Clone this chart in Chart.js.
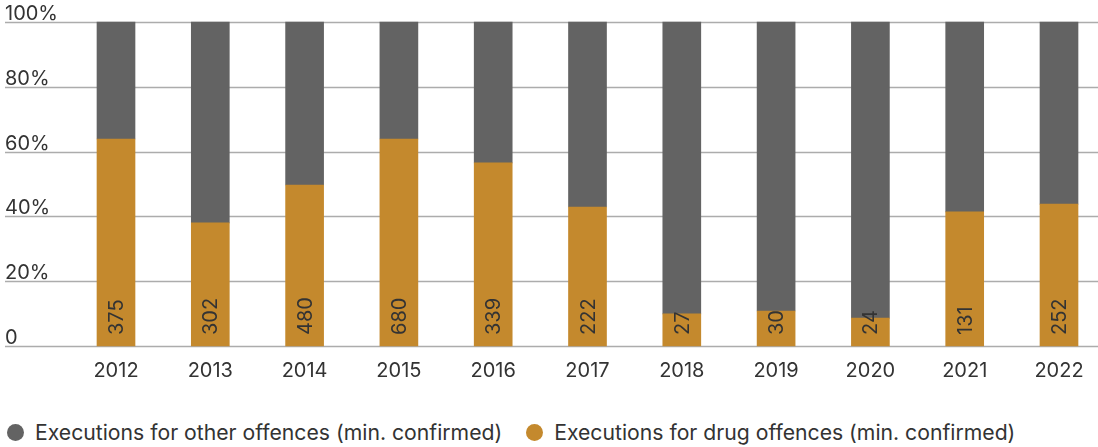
<!DOCTYPE html>
<html>
<head>
<meta charset="utf-8">
<script src="https://cdn.jsdelivr.net/npm/chart.js@4"></script>
<style>
  body { margin: 0; background: #fff; font-family: Inter, sans-serif; }
  #wrap { position: absolute; left: 0; top: 0; width: 1098px; height: 396px; }
  #legend { position: absolute; left: 7px; top: 420px; height: 25px; line-height: 25px; display: flex; align-items: center; font-size: 21.2px; color: #333; white-space: nowrap; }
  .item { display: flex; align-items: center; margin-right: 24px; }
  .dot { width: 17px; height: 17px; border-radius: 50%; margin-right: 11px; }
</style>
</head>
<body>
<div id="wrap"><canvas id="chart"></canvas></div>
<div id="legend"></div>
<script>
const years = ["2012", "2013", "2014", "2015", "2016", "2017", "2018", "2019", "2020", "2021", "2022"];
// share of executions (%)
const drugShare  = [63.9, 38.0, 49.7, 63.9, 56.5, 42.9, 9.9, 10.8, 8.6, 41.4, 43.8];
const otherShare = [36.1, 62.0, 50.3, 36.1, 43.5, 57.1, 90.1, 89.2, 91.4, 58.6, 56.2];
// numbers printed inside the drug bars
const drugCounts = [375, 302, 480, 680, 339, 222, 27, 30, 24, 131, 252];
const yTicks = [0, 20, 40, 60, 80, 100];
const yTickLabels = ["0", "20%", "40%", "60%", "80%", "100%"];

const FONT = "Inter, sans-serif";
const TEXT = "#333";

// grid lines and y labels run the full width of the picture
const gridPlugin = {
  id: "fullGrid",
  beforeDatasetsDraw(chart) {
    const ctx = chart.ctx;
    const y = chart.scales.y;
    ctx.save();
    ctx.strokeStyle = "#acacac";
    ctx.lineWidth = 1.5;
    ctx.fillStyle = TEXT;
    ctx.font = "20px " + FONT;
    ctx.textBaseline = "alphabetic";
    ctx.textAlign = "left";
    yTicks.forEach((v, i) => {
      const py = Math.round(y.getPixelForValue(v)) + 0.5;
      ctx.beginPath();
      ctx.moveTo(5, py);
      ctx.lineTo(chart.width, py);
      ctx.stroke();
      ctx.fillText(yTickLabels[i], 5, py - 3);
    });
    ctx.restore();
  }
};

// rotated counts at the foot of each drug bar
const countPlugin = {
  id: "counts",
  afterDatasetsDraw(chart) {
    const ctx = chart.ctx;
    const meta = chart.getDatasetMeta(0);
    ctx.save();
    ctx.fillStyle = TEXT;
    ctx.font = "20px " + FONT;
    ctx.textAlign = "left";
    ctx.textBaseline = "middle";
    meta.data.forEach((bar, i) => {
      ctx.save();
      ctx.translate(bar.x, bar.base - 11);
      ctx.rotate(-Math.PI / 2);
      ctx.fillText(String(drugCounts[i]), 0, 1);
      ctx.restore();
    });
    ctx.restore();
  }
};

const datasets = [
  { label: "Executions for drug offences (min. confirmed)", data: drugShare, backgroundColor: "#c4892d" },
  { label: "Executions for other offences (min. confirmed)", data: otherShare, backgroundColor: "#636363" }
];

const chart = new Chart(document.getElementById("chart"), {
  type: "bar",
  data: { labels: years, datasets: datasets },
  options: {
    responsive: true,
    maintainAspectRatio: false,
    animation: false,
    datasets: { bar: { barThickness: 38, borderWidth: 0, clip: false } },
    layout: { padding: { left: 116, right: 39, top: 22, bottom: 0 } },
    plugins: { legend: { display: false }, tooltip: { enabled: false } },
    scales: {
      x: {
        stacked: true,
        offset: false,
        grid: { display: false, drawTicks: false },
        border: { display: false },
        ticks: { color: TEXT, font: { family: FONT, size: 20 }, padding: 13, maxRotation: 0, autoSkip: false }
      },
      y: {
        stacked: true,
        display: false,
        min: 0,
        max: 100
      }
    }
  },
  plugins: [gridPlugin, countPlugin]
});

// legend: other offences first, then drug offences
const legend = document.getElementById("legend");
[datasets[1], datasets[0]].forEach(ds => {
  const item = document.createElement("div");
  item.className = "item";
  const dot = document.createElement("span");
  dot.className = "dot";
  dot.style.background = ds.backgroundColor;
  const txt = document.createElement("span");
  txt.textContent = ds.label;
  item.appendChild(dot);
  item.appendChild(txt);
  legend.appendChild(item);
});
</script>
</body>
</html>
